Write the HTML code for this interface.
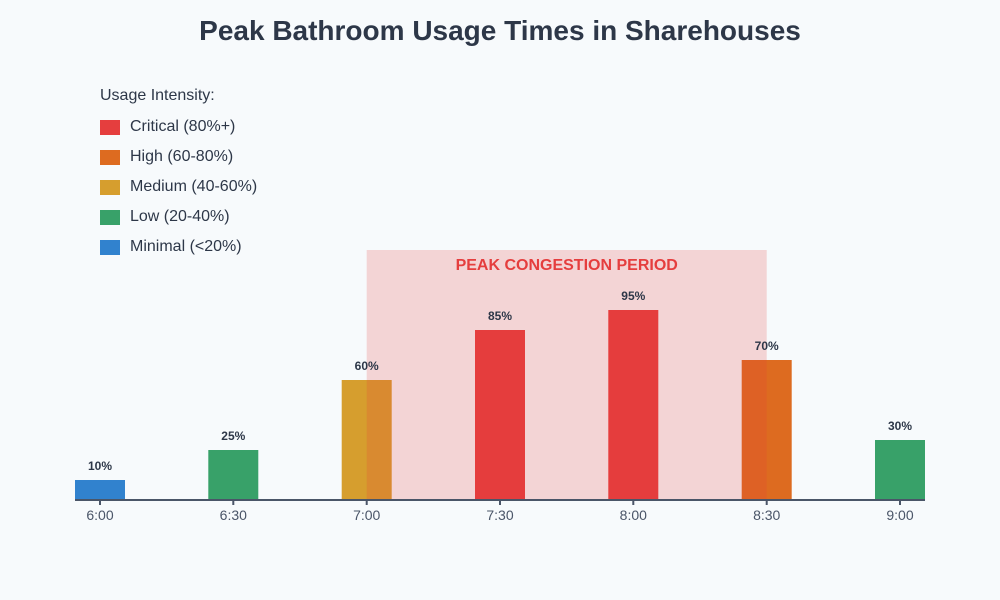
<!DOCTYPE html>
<html><head><meta charset="utf-8"><style>
html,body{margin:0;padding:0;background:#f7fafc;}
svg{display:block;font-family:"Liberation Sans",sans-serif;}
</style></head><body>
<svg width="1000" height="600" viewBox="0 0 1000 600">
<rect width="1000" height="600" fill="#f7fafc"/>
<text x="500" y="40" text-anchor="middle" font-size="28" font-weight="bold" fill="#2d3748">Peak Bathroom Usage Times in Sharehouses</text>
<text x="100" y="100" font-size="16" fill="#2d3748">Usage Intensity:</text>
<rect x="100" y="120" width="20" height="15" fill="#e53e3e"/><text x="130" y="131" font-size="16" fill="#2d3748">Critical (80%+)</text>
<rect x="100" y="150" width="20" height="15" fill="#dd6b20"/><text x="130" y="161" font-size="16" fill="#2d3748">High (60-80%)</text>
<rect x="100" y="180" width="20" height="15" fill="#d69e2e"/><text x="130" y="191" font-size="16" fill="#2d3748">Medium (40-60%)</text>
<rect x="100" y="210" width="20" height="15" fill="#38a169"/><text x="130" y="221" font-size="16" fill="#2d3748">Low (20-40%)</text>
<rect x="100" y="240" width="20" height="15" fill="#3182ce"/><text x="130" y="251" font-size="16" fill="#2d3748">Minimal (&lt;20%)</text>
<g>
<rect x="75" y="480" width="50" height="20" fill="#3182ce"/>
<rect x="208.3" y="450" width="50" height="50" fill="#38a169"/>
<rect x="341.7" y="380" width="50" height="120" fill="#d69e2e"/>
<rect x="475" y="330" width="50" height="170" fill="#e53e3e"/>
<rect x="608.3" y="310" width="50" height="190" fill="#e53e3e"/>
<rect x="741.7" y="360" width="50" height="140" fill="#dd6b20"/>
<rect x="875" y="440" width="50" height="60" fill="#38a169"/>
</g>
<rect x="366.7" y="250" width="400" height="250" fill="#e53e3e" opacity="0.2"/>
<text x="566.7" y="270" text-anchor="middle" font-size="16" font-weight="bold" fill="#e53e3e">PEAK CONGESTION PERIOD</text>
<g font-size="12" font-weight="bold" fill="#2d3748" text-anchor="middle">
<text x="100" y="470">10%</text><text x="233.3" y="440">25%</text><text x="366.7" y="370">60%</text>
<text x="500" y="320">85%</text><text x="633.3" y="300">95%</text><text x="766.7" y="350">70%</text><text x="900" y="430">30%</text>
</g>
<line x1="75" y1="500" x2="925" y2="500" stroke="#4a5568" stroke-width="2"/>
<g stroke="#4a5568" stroke-width="2">
<line x1="100" y1="500" x2="100" y2="505"/><line x1="233.3" y1="500" x2="233.3" y2="505"/><line x1="366.7" y1="500" x2="366.7" y2="505"/>
<line x1="500" y1="500" x2="500" y2="505"/><line x1="633.3" y1="500" x2="633.3" y2="505"/><line x1="766.7" y1="500" x2="766.7" y2="505"/><line x1="900" y1="500" x2="900" y2="505"/>
</g>
<g font-size="14" fill="#4a5568" text-anchor="middle">
<text x="100" y="520">6:00</text><text x="233.3" y="520">6:30</text><text x="366.7" y="520">7:00</text>
<text x="500" y="520">7:30</text><text x="633.3" y="520">8:00</text><text x="766.7" y="520">8:30</text><text x="900" y="520">9:00</text>
</g>
</svg>
</body></html>
